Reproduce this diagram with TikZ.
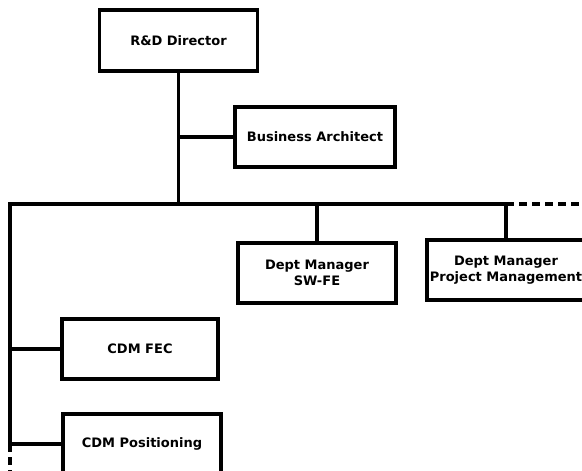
\documentclass[tikz,border=0pt]{standalone}
\usepackage{fontspec}
\setmainfont{DejaVu Sans}
\begin{document}
\begin{tikzpicture}[x=1pt,y=-1pt,
  orgbox/.style={draw, line width=3.2pt, fill=white, minimum width=158pt, minimum height=60pt,
    align=center, inner sep=0pt, font=\bfseries\fontsize{13}{15.5}\selectfont},
  link/.style={line width=3.2pt},
  openlink/.style={line width=3.2pt, dash pattern=on 8pt off 5pt}]
  \useasboundingbox (0,0) rectangle (582,471);
  \clip (0,0) rectangle (582,471);

  % boxes
  \node[orgbox, minimum width=158pt, minimum height=61pt] (dir) at (178.5,40.5) {R\&D Director};
  \node[orgbox, minimum width=160pt] (ba) at (315,137) {Business Architect};
  \node[orgbox] (sw) at (317,273) {Dept Manager\\SW-FE};
  \node[orgbox] (pm) at (506,270) {Dept Manager\\Project Management};
  \node[orgbox, minimum width=156pt] (fec) at (140,349) {CDM FEC};
  \node[orgbox] (pos) at (142,444) {CDM Positioning};

  % junction points on the bus and the left spine
  \coordinate (busL) at (10,204);
  \coordinate (busD) at (dir.south |- busL);
  \coordinate (busSW) at (sw.north |- busL);
  \coordinate (busPM) at (pm.north |- busL);
  \coordinate (busEnd) at (600,204);
  \coordinate (spFEC) at (busL |- fec.west);
  \coordinate (spPOS) at (busL |- pos.west);
  \coordinate (spEnd) at (10,490);
  \coordinate (jBA) at (dir.south |- ba.west);

  % connectors
  \draw[link] (dir.south) -- (busD);
  \draw[link] (jBA) -- (ba.west);
  \draw[link] (busPM) -- (busL) -- (spPOS);
  \draw[openlink] (busPM) -- (busEnd);
  \draw[openlink] (spPOS) -- (spEnd);
  \draw[link] (busSW) -- (sw.north);
  \draw[link] (busPM) -- (pm.north);
  \draw[link] (spFEC) -- (fec.west);
  \draw[link] (spPOS) -- (pos.west);
\end{tikzpicture}
\end{document}
